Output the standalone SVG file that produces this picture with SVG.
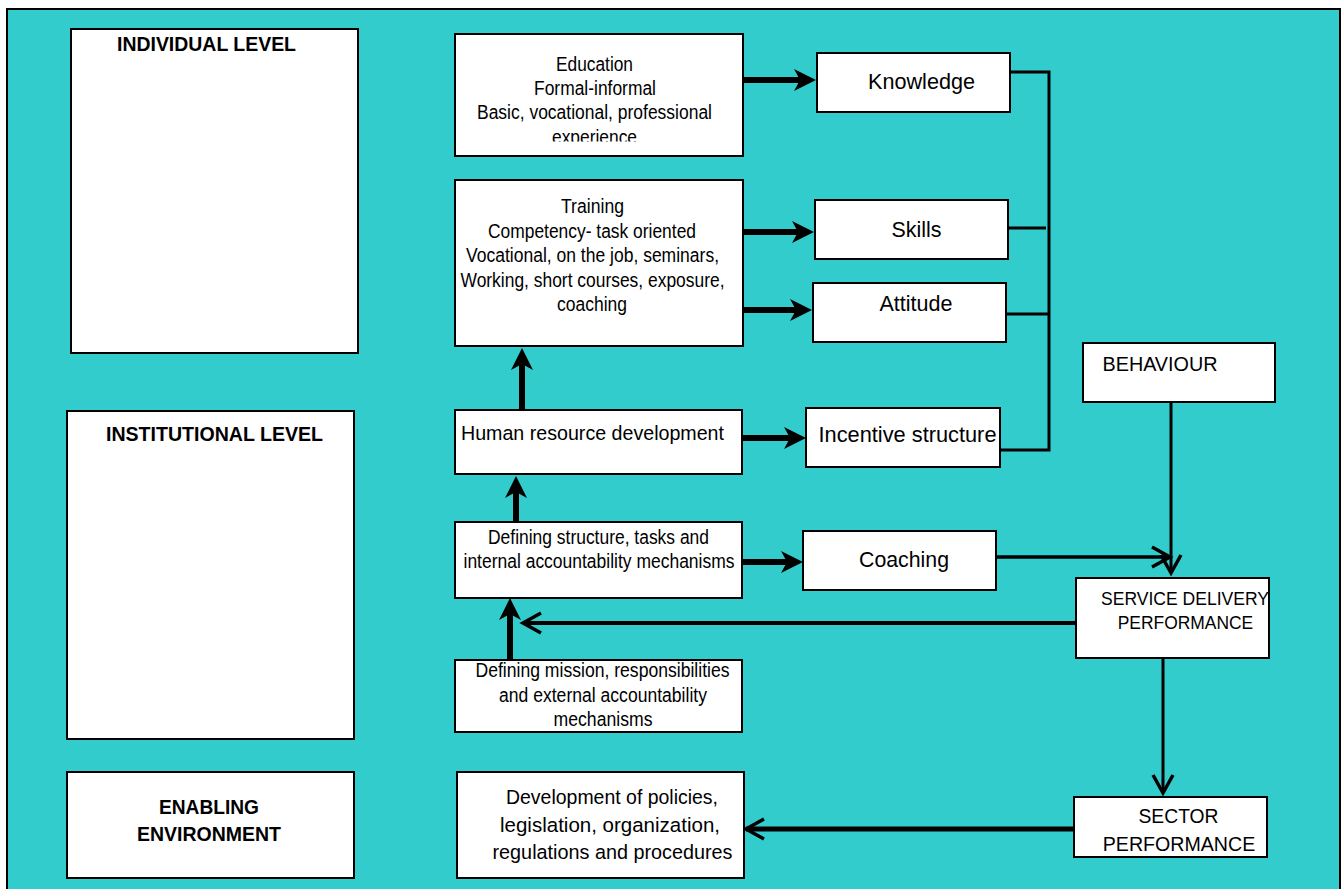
<svg xmlns="http://www.w3.org/2000/svg" width="1344" height="889" viewBox="0 0 1344 889">
<style>
.box{fill:#fff;stroke:#000;stroke-width:2}
.t{font-family:"Liberation Sans",Arial,sans-serif;fill:#000;text-anchor:middle}
.b{font-weight:bold}
.thick{fill:none;stroke:#000;stroke-width:6;marker-end:url(#ah)}
.thin{fill:none;stroke:#000;stroke-width:3.5;marker-end:url(#ch)}
.br{fill:none;stroke:#000;stroke-width:3}
</style>
<defs>
<marker id="ah" markerUnits="userSpaceOnUse" markerWidth="26" markerHeight="26" viewBox="-23 -13 26 26" refX="-10" refY="0" orient="auto" overflow="visible">
<path d="M0,0 L-22,-11 L-16,0 L-22,11 Z" fill="#000"/>
</marker>
<marker id="ch" markerUnits="userSpaceOnUse" markerWidth="26" markerHeight="26" viewBox="-22 -13 26 26" refX="0" refY="0" orient="auto" overflow="visible">
<path d="M-18,-10 L0,0 L-18,10" fill="none" stroke="#000" stroke-width="3.5"/>
</marker>
<clipPath id="eduClip"><rect x="455" y="34" width="288" height="107.5"/></clipPath>
</defs>
<rect x="0" y="0" width="1344" height="889" fill="#fff"/>
<rect x="7" y="9" width="1333" height="895" fill="#33CCCC" stroke="#000" stroke-width="2"/>

<g id="connectors">
<path class="thick" d="M743,80 H806"/>
<path class="thick" d="M743,232 H804"/>
<path class="thick" d="M743,310 H802"/>
<path class="thick" d="M522,410 V358"/>
<path class="thick" d="M742,438 H796"/>
<path class="thick" d="M516,522 V486"/>
<path class="thick" d="M742,562 H793"/>
<path class="thick" d="M510,660 V608"/>
<path class="br" d="M1010,72 H1049 V450 H1000"/>
<path class="br" d="M1008,228 H1046"/>
<path class="br" d="M1006,314 H1049"/>
<path class="thin" d="M996,557 H1170"/>
<path class="thin" style="stroke-width:3" d="M1171,402 V573"/>
<path class="thin" style="stroke-width:4" d="M1076,623 H523"/>
<path class="thin" style="stroke-width:3" d="M1163,658 V793"/>
<path class="thin" style="stroke-width:5" d="M1074,829 H746"/>
</g>

<g id="individual-level">
<rect class="box" x="71" y="29" width="287" height="324"/>
<text class="t b" x="206.5" y="51" font-size="21" textLength="179" lengthAdjust="spacingAndGlyphs">INDIVIDUAL LEVEL</text>
</g>
<g id="institutional-level">
<rect class="box" x="67" y="411" width="287" height="328"/>
<text class="t b" x="214.5" y="441" font-size="21" textLength="217" lengthAdjust="spacingAndGlyphs">INSTITUTIONAL LEVEL</text>
</g>
<g id="enabling-environment">
<rect class="box" x="67" y="772" width="287" height="106"/>
<text class="t b" x="209" y="814" font-size="21" textLength="100" lengthAdjust="spacingAndGlyphs">ENABLING</text>
<text class="t b" x="209" y="841" font-size="21" textLength="144" lengthAdjust="spacingAndGlyphs">ENVIRONMENT</text>
</g>

<g id="education">
<rect class="box" x="455" y="34" width="288" height="122"/>
<g clip-path="url(#eduClip)">
<text class="t" x="594.5" y="70.5" font-size="20" textLength="77" lengthAdjust="spacingAndGlyphs">Education</text>
<text class="t" x="595" y="94.5" font-size="20" textLength="122" lengthAdjust="spacingAndGlyphs">Formal-informal</text>
<text class="t" x="594.5" y="119" font-size="20" textLength="235" lengthAdjust="spacingAndGlyphs">Basic, vocational, professional</text>
<text class="t" x="594.5" y="143.5" font-size="20" textLength="85" lengthAdjust="spacingAndGlyphs">experience</text>
</g>
</g>

<g id="training">
<rect class="box" x="455" y="180" width="288" height="166"/>
<text class="t" x="592.5" y="213" font-size="20" textLength="63" lengthAdjust="spacingAndGlyphs">Training</text>
<text class="t" x="592" y="237.5" font-size="20" textLength="208" lengthAdjust="spacingAndGlyphs">Competency- task oriented</text>
<text class="t" x="592.5" y="262" font-size="20" textLength="253" lengthAdjust="spacingAndGlyphs">Vocational, on the job, seminars,</text>
<text class="t" x="592.5" y="286.5" font-size="20" textLength="264" lengthAdjust="spacingAndGlyphs">Working, short courses, exposure,</text>
<text class="t" x="592" y="310.5" font-size="20" textLength="70" lengthAdjust="spacingAndGlyphs">coaching</text>
</g>

<g id="knowledge">
<rect class="box" x="817" y="53" width="193" height="59"/>
<text class="t" x="921.5" y="89" font-size="22.5" textLength="107" lengthAdjust="spacingAndGlyphs">Knowledge</text>
</g>
<g id="skills">
<rect class="box" x="815" y="200" width="193" height="59"/>
<text class="t" x="916.5" y="236.5" font-size="22.5" textLength="50" lengthAdjust="spacingAndGlyphs">Skills</text>
</g>
<g id="attitude">
<rect class="box" x="813" y="283" width="193" height="59"/>
<text class="t" x="916" y="311" font-size="22.5" textLength="73" lengthAdjust="spacingAndGlyphs">Attitude</text>
</g>

<g id="hrd">
<rect class="box" x="455" y="410" width="287" height="64"/>
<text class="t" x="592.5" y="439.5" font-size="20.5" textLength="263" lengthAdjust="spacingAndGlyphs">Human resource development</text>
</g>
<g id="incentive-structure">
<rect class="box" x="806" y="408" width="194" height="59"/>
<text class="t" x="907.5" y="442" font-size="22.5" textLength="178" lengthAdjust="spacingAndGlyphs">Incentive structure</text>
</g>

<g id="defining-structure">
<rect class="box" x="455" y="522" width="287" height="76"/>
<text class="t" x="598.5" y="543.5" font-size="19.5" textLength="221" lengthAdjust="spacingAndGlyphs">Defining structure, tasks and</text>
<text class="t" x="599" y="568" font-size="19.5" textLength="271" lengthAdjust="spacingAndGlyphs">internal accountability mechanisms</text>
</g>
<g id="coaching">
<rect class="box" x="803" y="531" width="193" height="59"/>
<text class="t" x="904" y="567" font-size="22.5" textLength="90" lengthAdjust="spacingAndGlyphs">Coaching</text>
</g>

<g id="behaviour">
<rect class="box" x="1083" y="343" width="192" height="59"/>
<text class="t" x="1160" y="370.5" font-size="20.5" textLength="115" lengthAdjust="spacingAndGlyphs">BEHAVIOUR</text>
</g>
<g id="service-delivery-performance">
<rect class="box" x="1076" y="578" width="193" height="80"/>
<text class="t" x="1185" y="605" font-size="19" textLength="168" lengthAdjust="spacingAndGlyphs">SERVICE DELIVERY</text>
<text class="t" x="1185.5" y="629" font-size="19" textLength="135.5" lengthAdjust="spacingAndGlyphs">PERFORMANCE</text>
</g>

<g id="defining-mission">
<rect class="box" x="455" y="660" width="287" height="72"/>
<text class="t" x="602.5" y="676.5" font-size="19.5" textLength="254" lengthAdjust="spacingAndGlyphs">Defining mission, responsibilities</text>
<text class="t" x="603" y="701.5" font-size="19.5" textLength="208" lengthAdjust="spacingAndGlyphs">and external accountability</text>
<text class="t" x="603" y="726" font-size="19.5" textLength="99" lengthAdjust="spacingAndGlyphs">mechanisms</text>
</g>

<g id="policies">
<rect class="box" x="457" y="772" width="287" height="106"/>
<text class="t" x="612" y="804" font-size="20.5" textLength="212" lengthAdjust="spacingAndGlyphs">Development of policies,</text>
<text class="t" x="610" y="831.5" font-size="20.5" textLength="220" lengthAdjust="spacingAndGlyphs">legislation, organization,</text>
<text class="t" x="612.5" y="859" font-size="20.5" textLength="240" lengthAdjust="spacingAndGlyphs">regulations and procedures</text>
</g>

<g id="sector-performance">
<rect class="box" x="1074" y="797" width="193" height="60"/>
<text class="t" x="1178.5" y="823" font-size="20.5" textLength="80" lengthAdjust="spacingAndGlyphs">SECTOR</text>
<text class="t" x="1179" y="851" font-size="20.5" textLength="152.5" lengthAdjust="spacingAndGlyphs">PERFORMANCE</text>
</g>
</svg>
